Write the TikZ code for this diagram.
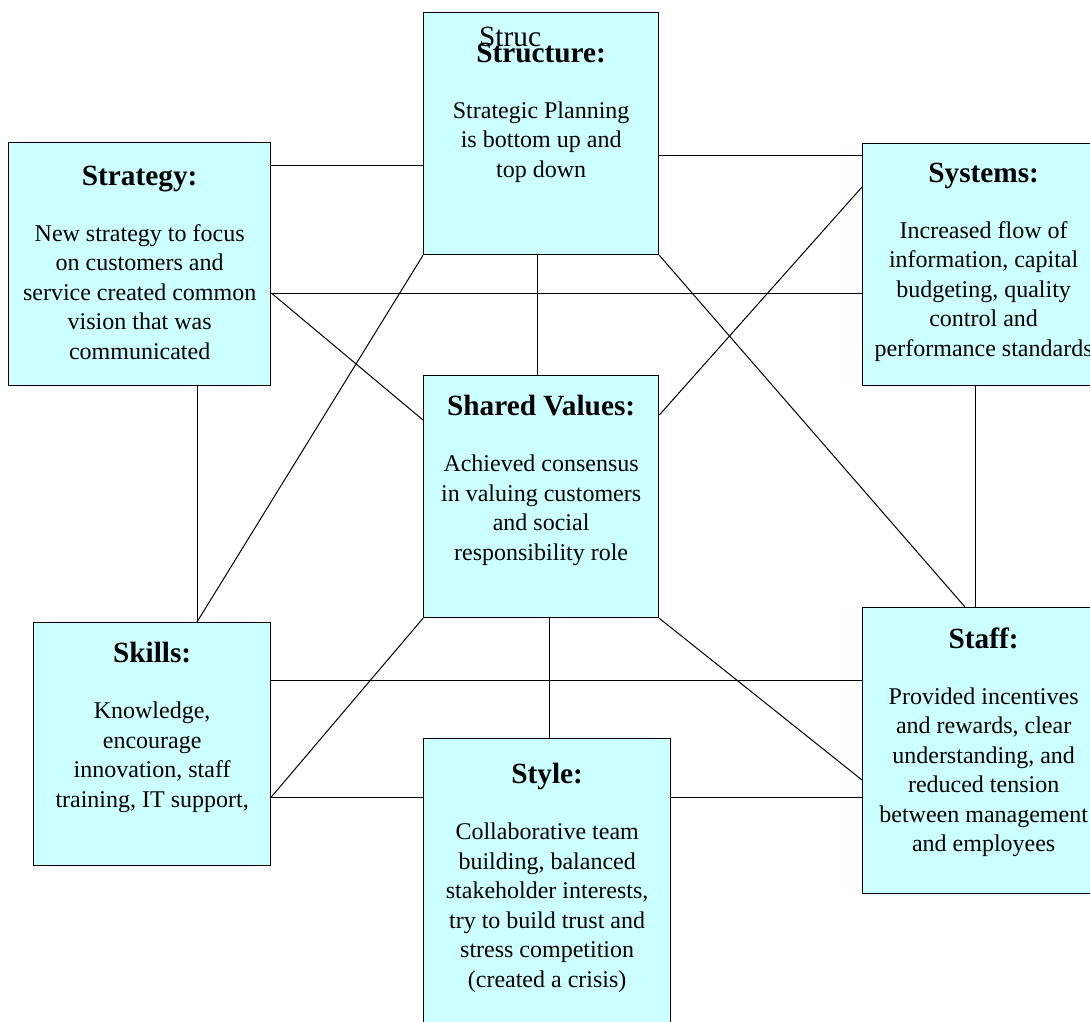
\documentclass[tikz,border=0pt]{standalone}
\usepackage{fontspec}
\setmainfont{Liberation Serif}
\usepackage{tikz}
\definecolor{boxcyan}{HTML}{CCFFFF}

% text of one block: [top drop]{width}{height}{title}{body}
\newcommand{\blocktext}[5][20pt]{%
  \parbox[t][#3][t]{#2}{\centering\vspace*{#1}%
    {\fontsize{29.3}{34}\selectfont\bfseries #4\par}%
    \vspace{26.5pt}%
    {\fontsize{24}{29.5}\selectfont #5\par}}}

\begin{document}
\begin{tikzpicture}[x=1pt,y=-1pt]
    \tikzstyle{block}=[draw, fill=boxcyan, line width=1.3pt, inner sep=0pt, anchor=north west]
    \tikzstyle{link}=[line width=1pt]
    \clip (0,0) rectangle (1090,1022);
    % Draw the blocks
    \node[block] (struct) at (423,12) {\blocktext[30pt]{235pt}{242pt}{Structure:}{Strategic Planning\\ is bottom up and\\ top down}};
    \node[block] (strat) at (8,142) {\blocktext[23pt]{262pt}{243pt}{Strategy:}{New strategy to focus\\ on customers and\\ service created common\\ vision that was\\ communicated}};
    \node[block] (sys) at (862,143) {\blocktext[19pt]{242pt}{242pt}{Systems:}{Increased flow of\\ information, capital\\ budgeting, quality\\ control and\\ performance standards}};
    \node[block] (shared) at (423,375) {\blocktext{235pt}{242pt}{Shared Values:}{Achieved consensus\\ in valuing customers\\ and social\\ responsibility role}};
    \node[block] (skills) at (33,622) {\blocktext{237pt}{243pt}{Skills:}{Knowledge,\\ encourage\\ innovation, staff\\ training, IT support,}};
    \node[block] (staff) at (862,607) {\blocktext{242pt}{286pt}{Staff:}{Provided incentives\\ and rewards, clear\\ understanding, and\\ reduced tension\\ between management\\ and employees}};
    \node[block] (style) at (423,738) {\blocktext[25pt]{247pt}{310pt}{Style:}{Collaborative team\\ building, balanced\\ stakeholder interests,\\ try to build trust and\\ stress competition\\ (created a crisis)}};
    \node[anchor=base west, inner sep=0pt, font=\fontsize{29.3}{34}\selectfont] (struc) at (479,47) {Struc};
    % Rows and columns the links run along
    \coordinate (toprowL) at (0,166);
    \coordinate (toprowR) at (0,156);
    \coordinate (midrow) at (0,293);
    \coordinate (lowrow) at (0,680);
    \coordinate (baserow) at (0,797);
    \coordinate (sysin) at (0,187);
    \coordinate (sharedin) at (0,420);
    \coordinate (sharedout) at (0,415);
    \coordinate (staffin) at (0,780);
    \coordinate (leftcol) at (197,0);
    \coordinate (upcol) at (537,0);
    \coordinate (downcol) at (549,0);
    \coordinate (rightcol) at (975,0);
    \coordinate (staffcol) at (965,0);
    % Draw the links
    \draw[link] (strat.east |- toprowL) -- (struct.west |- toprowL);
    \draw[link] (struct.east |- toprowR) -- (sys.west |- toprowR);
    \draw[link] (strat.east |- midrow) -- (sys.west |- midrow);
    \draw[link] (strat.east |- midrow) -- (shared.west |- sharedin);
    \draw[link] (struct.south -| upcol) -- (shared.north -| upcol);
    \draw[link] (struct.south west) -- (skills.north -| leftcol);
    \draw[link] (struct.south east) -- (staff.north -| staffcol);
    \draw[link] (sys.west |- sysin) -- (shared.east |- sharedout);
    \draw[link] (strat.south -| leftcol) -- (skills.north -| leftcol);
    \draw[link] (sys.south -| rightcol) -- (staff.north -| rightcol);
    \draw[link] (shared.south west) -- (skills.east |- baserow);
    \draw[link] (shared.south -| downcol) -- (style.north -| downcol);
    \draw[link] (shared.south east) -- (staff.west |- staffin);
    \draw[link] (skills.east |- lowrow) -- (staff.west |- lowrow);
    \draw[link] (skills.east |- baserow) -- (style.west |- baserow);
    \draw[link] (style.east |- baserow) -- (staff.west |- baserow);
\end{tikzpicture}
\end{document}
